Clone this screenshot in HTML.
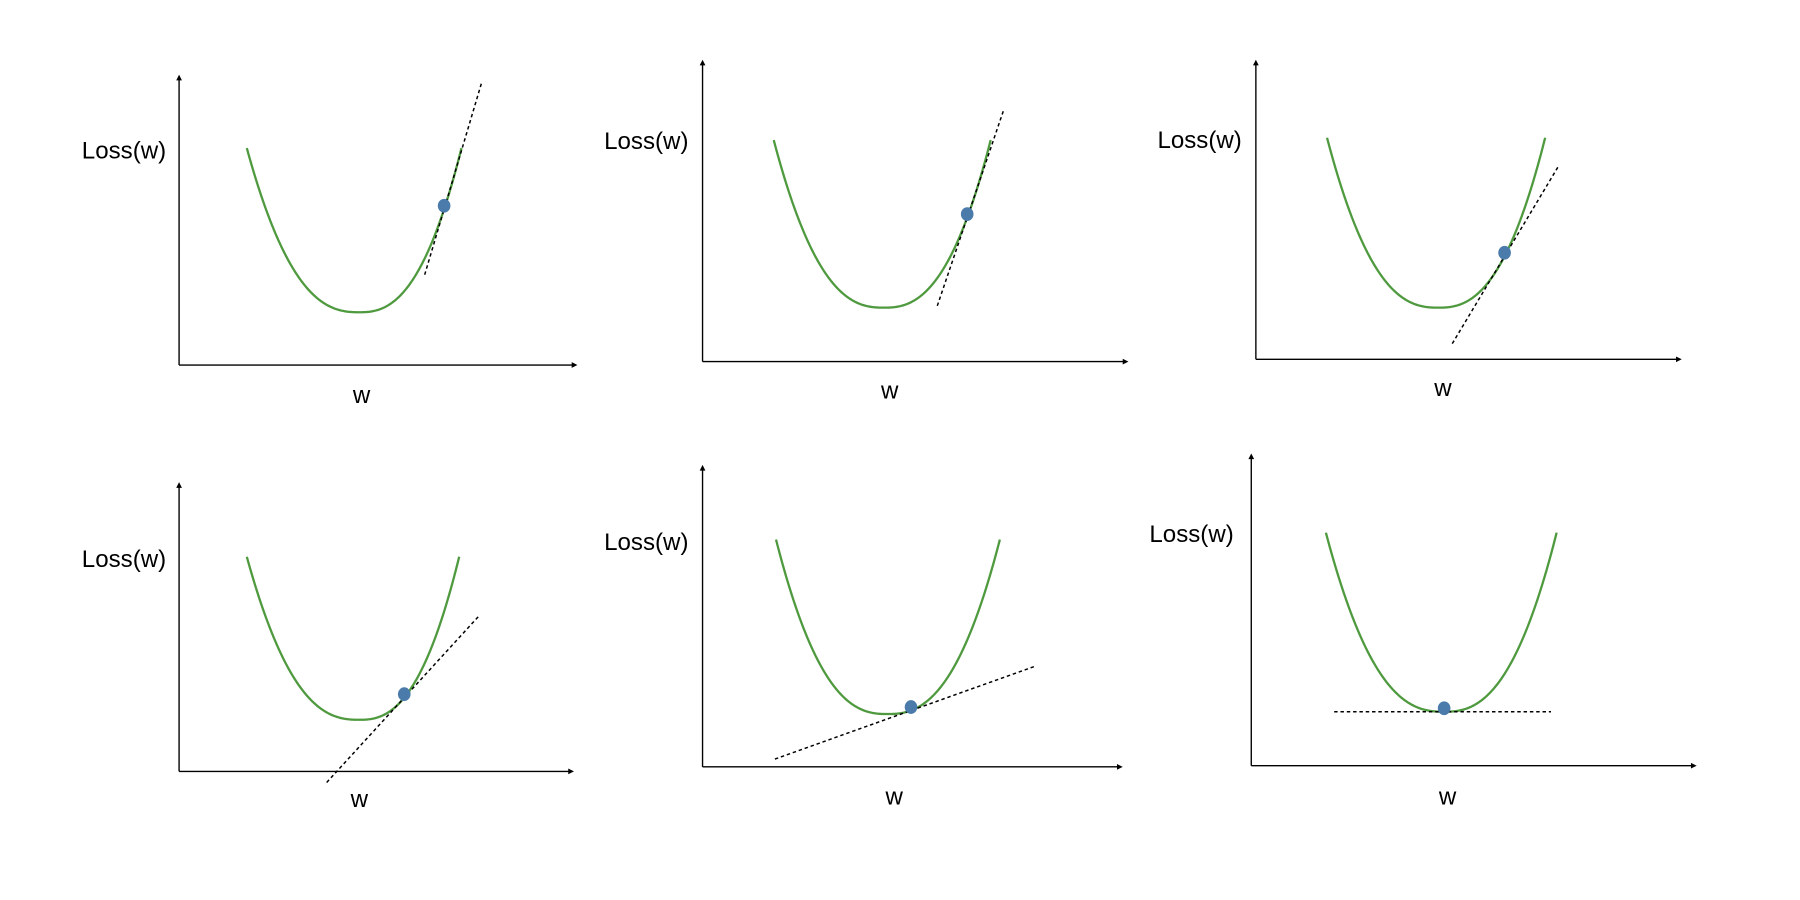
<!DOCTYPE html>
<html><head><meta charset="utf-8"><style>
html,body{margin:0;padding:0;background:#fff;}
svg{display:block;}
text{font-family:"Liberation Sans",Arial,sans-serif;fill:#000;}
</style></head><body>
<svg id="chart" width="1800" height="900" viewBox="0 0 1568 784" xmlns="http://www.w3.org/2000/svg"></svg>
<script>
// Panel data (w in units of half-width of the curve, loss normalized 0..1)
const panelNames = ['step-1','step-2','step-3','step-4','step-5','step-6'];
const pointW = [0.83, 0.78, 0.62, 0.45, 0.21, 0.0];
const tangentSlope = [2.1, 1.88, 1.05, 0.67, 0.23, 0.0];
const tangentFromW = [0.64, 0.5, 0.13, -0.29, -1.01, -0.93];
const tangentToW = [1.2, 1.12, 1.13, 1.2, 1.31, 0.95];
const lossExponent = 2.5;
const yLabel = 'Loss(w)';
const xLabel = 'w';

// layout (positions only)
const layout = [
 {ax:156,top:65,bot:318,right:503,left:215,xmin:313,ymin:272,ytop:129,lx:108,ly:131,wx:315,wy:345},
 {ax:612,top:52,bot:315,right:983,left:674,xmin:770,ymin:268,ytop:122,lx:563,ly:123,wx:775,wy:341},
 {ax:1094,top:52,bot:313,right:1465,left:1156,xmin:1253,ymin:268,ytop:120,lx:1045,ly:122,wx:1257,wy:339},
 {ax:156,top:420,bot:672,right:500,left:215,xmin:313,ymin:627,ytop:485,lx:108,ly:487,wx:313,wy:697},
 {ax:612,top:405,bot:668,right:978,left:676,xmin:773,ymin:622,ytop:470,lx:563,ly:472,wx:779,wy:695},
 {ax:1090,top:395,bot:667,right:1478,left:1155,xmin:1258,ymin:620,ytop:464,lx:1038,ly:465,wx:1261,wy:695}
];
const rightEnds=[402,863,1346,400,871,1356];

const NS='http://www.w3.org/2000/svg';
const svg=document.getElementById('chart');
function mk(tag,attrs,parent){const e=document.createElementNS(NS,tag);for(const k in attrs)e.setAttribute(k,attrs[k]);(parent||svg).appendChild(e);return e;}
function lossOf(w){return Math.pow(Math.abs(w),lossExponent);}

panelNames.forEach((name,i)=>{
  const L=layout[i];
  const hwL=L.xmin-L.left, hwR=rightEnds[i]-L.xmin;
  const xScale=w=>L.xmin+(w<0?w*hwL:w*hwR);
  const yScale=v=>L.ymin-v*(L.ymin-L.ytop);
  const g=mk('g',{});
  
  
  const ya=mk('line',{x1:L.ax,y1:L.bot,x2:L.ax,y2:L.top+4,stroke:'#000','stroke-width':1.2},g);
  
  
  const yh=mk('path',{d:`M${L.ax-2.5},${L.top+5} L${L.ax},${L.top} L${L.ax+2.5},${L.top+5}Z`,fill:'#000'},g);
  
  
  const xa=mk('line',{x1:L.ax,y1:L.bot,x2:L.right-4,y2:L.bot,stroke:'#000','stroke-width':1.2},g);
  
  
  const xh=mk('path',{d:`M${L.right-5},${L.bot-2.5} L${L.right},${L.bot} L${L.right-5},${L.bot+2.5}Z`,fill:'#000'},g);
  
  
  const yl=mk('text',{x:L.lx,y:L.ly+7,'text-anchor':'middle','font-size':21},g);
  yl.textContent=yLabel;
  
  
  const xl=mk('text',{x:L.wx,y:L.wy+6,'text-anchor':'middle','font-size':21},g);
  xl.textContent=xLabel;
  
  
  let d='';
  for(let k=0;k<=200;k++){const w=-1+2*k/200;d+=(k?'L':'M')+xScale(w).toFixed(2)+','+yScale(lossOf(w)).toFixed(2);}
  const c=mk('path',{d,fill:'none',stroke:'#4f9a3f','stroke-width':2},g);
  
  
  const w0=pointW[i];
  const px=xScale(w0), py=yScale(lossOf(w0));
  const slopePx=-tangentSlope[i]*(L.ymin-L.ytop)/hwR;
  const xa1=xScale(tangentFromW[i]), xa2=xScale(tangentToW[i]);
  const t=mk('line',{x1:xa1,y1:py+slopePx*(xa1-px),x2:xa2,y2:py+slopePx*(xa2-px),stroke:'#000','stroke-width':1.3,'stroke-dasharray':'3,2.5'},g);
  
  
  const p=mk('ellipse',{cx:px,cy:py-3,rx:5.5,ry:6,fill:'#4a7bab'},g);
  
  
});
</script>
</body></html>
